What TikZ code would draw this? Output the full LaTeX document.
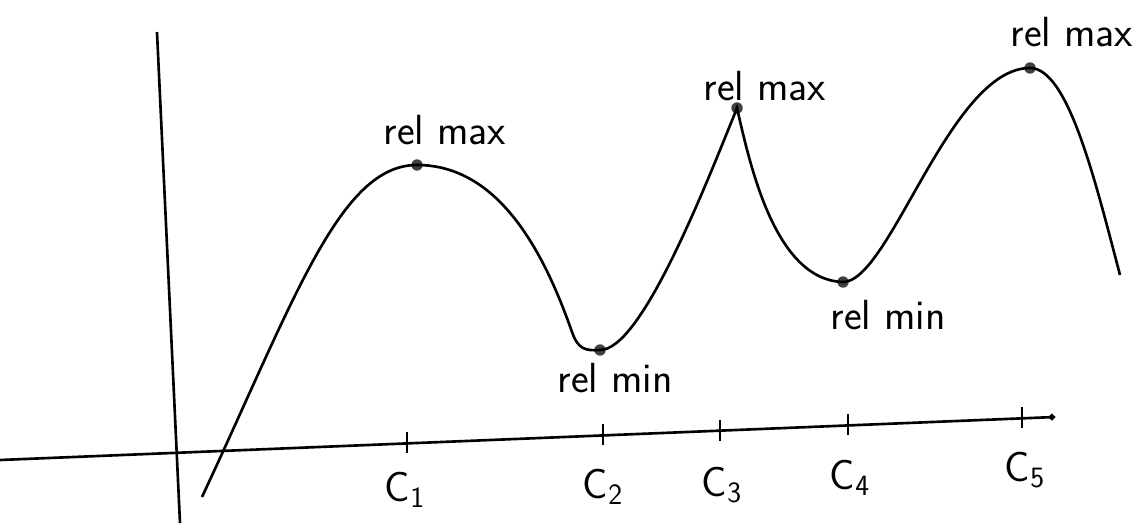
\documentclass[tikz,border=0pt]{standalone}
\usepackage{amsmath}
\usepackage{tikz}
\usetikzlibrary{arrows.meta}

\begin{document}
\begin{tikzpicture}[scale=0.2]
\tikzstyle{every node}+=[inner sep=0pt]
\tikzstyle{lbl}=[font=\sffamily\fontsize{24}{26}\selectfont]
\tikzstyle{clbl}=[font=\sffamily\fontsize{24}{26}\selectfont]
\tikzstyle{pt}=[circle,fill=black!75,minimum size=6.5pt]
\tikzstyle{crv}=[black, line width=1.5pt]
\useasboundingbox (0,0) rectangle (114.8,-52.3);
\coordinate (ytop) at (15.7,-3.2);
\coordinate (ybot) at (18.0,-52.3);
\coordinate (xl) at (0,-46.0);
\coordinate (xr) at (105.5,-41.7);
\draw [crv] (ytop) -- (ybot);
\draw [crv, -{Circle[length=3.5pt]}] (xl) -- (xr);
\foreach \i/\x/\y in {1/40.7/-44.3, 2/60.3/-43.5, 3/72.0/-43.1, 4/84.8/-42.5, 5/102.2/-41.8}
{
\coordinate (c\i) at (\x,\y);
\draw [crv] (\x,\y+1.1) -- (\x,\y-1.0);
}
\draw (40.5,-49.0) node [clbl] {C\textsubscript{1}};
\draw (60.3,-48.7) node [clbl] {C\textsubscript{2}};
\draw (72.2,-48.5) node [clbl] {C\textsubscript{3}};
\draw (85.0,-47.8) node [clbl] {C\textsubscript{4}};
\draw (102.5,-47.0) node [clbl] {C\textsubscript{5}};
\coordinate (s) at (20.2,-49.7);
\node [pt] (mx1) at (41.7,-16.5) {};
\coordinate (k1) at (57.2,-33.2);
\node [pt] (mn1) at (60.0,-35.0) {};
\node [pt] (mx2) at (73.7,-10.8) {};
\node [pt] (mn2) at (84.3,-28.2) {};
\node [pt] (mx3) at (103.0,-6.8) {};
\coordinate (e) at (112.0,-27.5);
\draw [crv] (s) .. controls (29.5,-29.8) and (34.0,-16.5) .. (mx1.center)
  .. controls (50.0,-16.5) and (54.5,-25.5) .. (k1)
  .. controls (57.8,-34.9) and (58.5,-35.1) .. (mn1.center)
  .. controls (64.0,-35.0) and (70.0,-20.0) .. (mx2.center)
  .. controls (75.0,-16.5) and (77.5,-28.0) .. (mn2.center)
  .. controls (89.0,-28.2) and (95.0,-6.8) .. (mx3.center)
  .. controls (106.8,-6.8) and (109.5,-18.0) .. (e);
\draw (44.5,-13.0) node [lbl] {rel max};
\draw (61.5,-37.8) node [lbl] {rel min};
\draw (76.5,-8.6) node [lbl] {rel max};
\draw (88.8,-31.5) node [lbl] {rel min};
\draw (107.2,-3.2) node [lbl] {rel max};
\end{tikzpicture}
\end{document}
